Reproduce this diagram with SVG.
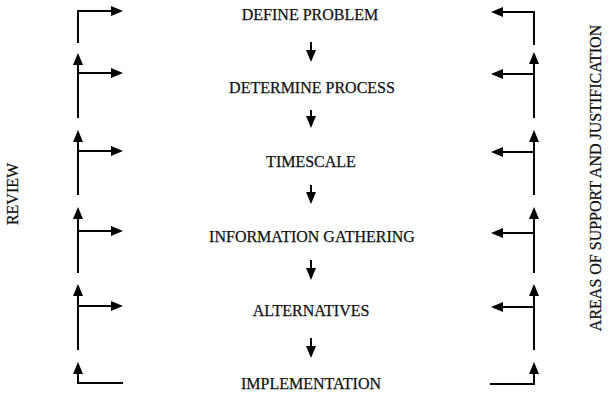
<svg xmlns="http://www.w3.org/2000/svg" width="608" height="393" viewBox="0 0 608 393">
  <defs>
    <!-- filled triangular arrowhead; tip lands 8px beyond the path end -->
    <marker id="head" viewBox="0 0 12 10" refX="4" refY="5" markerWidth="12" markerHeight="10" markerUnits="userSpaceOnUse" orient="auto">
      <path d="M0,0 L12,5 L0,10 Z" fill="#000"/>
    </marker>
    <style>
      .arr { fill: none; stroke: #000; stroke-width: 2; marker-end: url(#head); }
      text { font-family: Liberation Serif, Times New Roman, Times, serif; font-size: 16px; fill: #111; stroke: #111; stroke-width: 0.25px; text-anchor: middle; }
    </style>
  </defs>
  <rect width="608" height="393" fill="#fff"/>

  <!-- stage labels -->
  <g id="define-problem"><text x="310" y="20">DEFINE PROBLEM</text></g>
  <g id="determine-process"><text x="312" y="93">DETERMINE PROCESS</text></g>
  <g id="timescale"><text x="311" y="167">TIMESCALE</text></g>
  <g id="information-gathering"><text x="312" y="242">INFORMATION GATHERING</text></g>
  <g id="alternatives"><text x="311" y="316">ALTERNATIVES</text></g>
  <g id="implementation"><text x="311" y="389">IMPLEMENTATION</text></g>

  <!-- side captions -->
  <g id="review"><text transform="translate(18,194) rotate(-90)">REVIEW</text></g>
  <g id="areas-of-support"><text transform="translate(601,178) rotate(-90)">AREAS OF SUPPORT AND JUSTIFICATION</text></g>

  <g id="connectors">
    <!-- main flow -->
    <path class="arr" d="M311,42 V54"/>
    <path class="arr" d="M311,110 V120"/>
    <path class="arr" d="M311,185 V196"/>
    <path class="arr" d="M311,260 V272"/>
    <path class="arr" d="M311,338 V350"/>

    <!-- review loop (left) -->
    <path class="arr" d="M78,43 V11 H115"/>
    <path class="arr" d="M78,118 V61"/>
    <path class="arr" d="M78,73 H115"/>
    <path class="arr" d="M78,195 V138"/>
    <path class="arr" d="M78,151 H115"/>
    <path class="arr" d="M78,273 V215"/>
    <path class="arr" d="M78,231 H115"/>
    <path class="arr" d="M78,350 V292"/>
    <path class="arr" d="M78,306 H115"/>
    <path class="arr" d="M123,383 H78 V370"/>

    <!-- support loop (right) -->
    <path class="arr" d="M534,45 V12 H499"/>
    <path class="arr" d="M534,118 V60"/>
    <path class="arr" d="M534,74 H499"/>
    <path class="arr" d="M534,195 V138"/>
    <path class="arr" d="M534,152 H499"/>
    <path class="arr" d="M534,273 V215"/>
    <path class="arr" d="M534,233 H499"/>
    <path class="arr" d="M534,350 V292"/>
    <path class="arr" d="M534,307 H499"/>
    <path class="arr" d="M490,384 H534 V370"/>
  </g>
</svg>
